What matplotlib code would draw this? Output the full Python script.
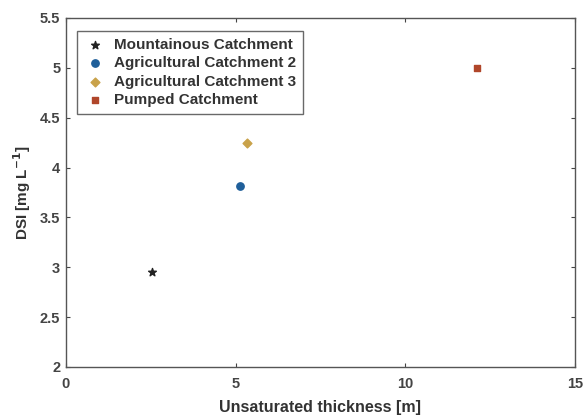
import matplotlib.pyplot as plt

plt.rcParams['font.family'] = ['Liberation Sans', 'DejaVu Sans']

# data
labels = ["Mountainous Catchment", "Agricultural Catchment 2",
          "Agricultural Catchment 3", "Pumped Catchment"]
thickness = [2.55, 5.13, 5.34, 12.12]
dsi = [2.95, 3.81, 4.25, 5.0]
markers = ["*", "o", "D", "s"]
colors = ["#222222", "#1f5f9a", "#c9a24a", "#b0462a"]
msizes = [34, 28, 20, 22]

fig = plt.figure(figsize=(5.88, 4.17), dpi=100)
ax = fig.add_axes([0.112, 0.12, 0.866, 0.837])

for x, y, m, c, s, lab in zip(thickness, dsi, markers, colors, msizes, labels):
    ax.scatter(x, y, marker=m, color=c, s=s, label=lab, zorder=3)

ax.set_xlim(0, 15)
ax.set_ylim(2, 5.5)
ax.set_xticks([0, 5, 10, 15])
ax.set_yticks([2, 2.5, 3, 3.5, 4, 4.5, 5, 5.5])
ax.set_yticklabels(["2", "2.5", "3", "3.5", "4", "4.5", "5", "5.5"])
ax.tick_params(direction='in', top=True, right=True, length=3, width=0.8,
               labelsize=10.5, colors='#444444', labelcolor='#444444')
ax.tick_params(axis='x', pad=7)
ax.tick_params(axis='y', pad=4)
for lbl in ax.get_xticklabels() + ax.get_yticklabels():
    lbl.set_fontweight('bold')
for sp in ax.spines.values():
    sp.set_color('#555555')
    sp.set_linewidth(1.0)

ax.set_xlabel("Unsaturated thickness [m]", fontsize=11.5, fontweight='bold',
              color='#333333', labelpad=7)
ax.set_ylabel("DSI [mg L$^{\\mathbf{-1}}$]", fontsize=11, fontweight='bold',
              color='#333333', labelpad=5)

leg = ax.legend(loc='upper left', bbox_to_anchor=(0.021, 0.963), borderaxespad=0,
                prop={'weight': 'bold', 'size': 11}, frameon=True, fancybox=False,
                edgecolor='#444444', handletextpad=0.5, borderpad=0.45,
                labelspacing=0.3, scatterpoints=1, handlelength=1.5)
leg.get_frame().set_linewidth(1.0)
for t in leg.get_texts():
    t.set_color('#333333')

fig.savefig("out.png", dpi=100)
